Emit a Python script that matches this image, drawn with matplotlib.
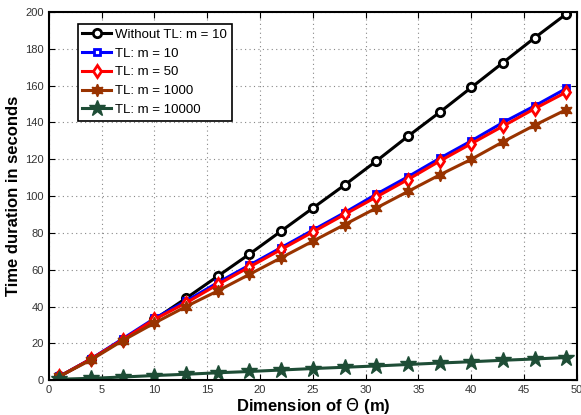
import numpy as np
import matplotlib
matplotlib.use("Agg")
import matplotlib.pyplot as plt

plt.rcParams['font.family'] = ['Liberation Sans', 'DejaVu Sans']

# data
dims = [1, 4, 7, 10, 13, 16, 19, 22, 25, 28, 31, 34, 37, 40, 43, 46, 49]
without_tl = [2, 11.5, 22, 33, 44.5, 56.5, 68.5, 81, 93.5, 106, 119, 132.5,
              145.5, 159, 172.5, 186, 199]
tl_10 = [2, 11.5, 22.5, 33.5, 43, 53, 62.5, 72, 81.5, 91, 101, 110.5,
         120.5, 130, 140, 149, 158.5]
tl_50 = [2, 11.5, 22, 33, 42, 52, 61.5, 71, 80.5, 90, 99.5, 109,
         119, 128.5, 138, 147.5, 156.5]
tl_1000 = [2, 11, 21.5, 31, 40, 48.5, 57.5, 66.5, 75.5, 84.5, 93.5, 102.5,
           111.5, 120, 129.5, 138.5, 147]
tl_10000 = [0.5, 1.0, 1.7, 2.5, 3.2, 4.0, 4.7, 5.5, 6.3, 7.0, 7.7, 8.5,
            9.3, 10.0, 10.8, 11.5, 12.3]

fig = plt.figure(figsize=(5.81, 4.15), dpi=100)
ax = fig.add_axes([0.084, 0.084, 0.909, 0.887])

ax.plot(dims, without_tl, color='black', lw=2.2, marker='o', ms=6,
        mfc='white', mew=2, label='Without TL: m = 10')
ax.plot(dims, tl_10, color='blue', lw=2.2, marker='s', ms=5,
        mfc='white', mew=2, label='TL: m = 10')
ax.plot(dims, tl_50, color='red', lw=2.2, marker='d', ms=6,
        mfc='white', mew=2, label='TL: m = 50')
ax.plot(dims, tl_1000, color='#993300', lw=2.2, marker=(6, 1, 0), ms=9,
        mfc='#993300', mec='#993300', label='TL: m = 1000')
ax.plot(dims, tl_10000, color='#1e4d36', lw=2.2, marker='*', ms=12,
        mfc='#1e4d36', mec='#1e4d36', label='TL: m = 10000')

ax.set_xlim(0, 50)
ax.set_ylim(0, 200)
ax.set_xticks(np.arange(0, 51, 5))
ax.set_yticks(np.arange(0, 201, 20))
ax.tick_params(direction='in', top=True, right=True, labelsize=8,
               labelcolor='#333333', length=4)
ax.grid(True, linestyle=(0, (1, 3)), color='#888888', lw=0.8)
for s in ax.spines.values():
    s.set_linewidth(1.5)

ax.set_xlabel('Dimension of $\\Theta$ (m)', fontsize=12, fontweight='bold',
              labelpad=1)
ax.set_ylabel('Time duration in seconds', fontsize=12, fontweight='bold',
              labelpad=3)

leg = ax.legend(loc='upper left', bbox_to_anchor=(0.055, 0.968), fancybox=False,
                edgecolor='black', framealpha=1, fontsize=9.5,
                handlelength=2.2, borderpad=0.35, labelspacing=0.5,
                handletextpad=0.3, borderaxespad=0)
leg.get_frame().set_linewidth(1.2)

plt.savefig('out.png', dpi=100)
